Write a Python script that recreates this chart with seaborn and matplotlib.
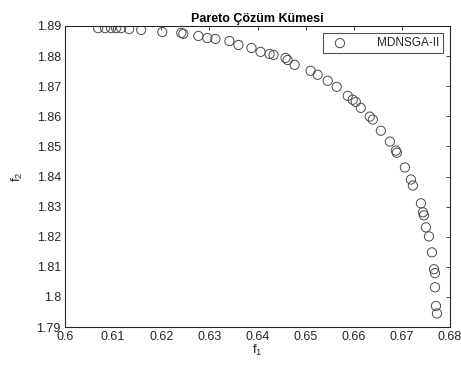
import matplotlib
matplotlib.use("Agg")
import matplotlib.pyplot as plt
import seaborn as sns
import pandas as pd

f1 = [0.60688, 0.60833, 0.60958, 0.61063, 0.61167, 0.61333, 0.61583, 0.62021, 0.62417, 0.62458,
      0.62771, 0.62958, 0.63125, 0.63417, 0.63604, 0.63875, 0.64063, 0.64250, 0.64333, 0.64583,
      0.64625, 0.64771, 0.65104, 0.65250, 0.65458, 0.65646, 0.65875, 0.65979, 0.66042, 0.66146,
      0.66333, 0.66396, 0.66563, 0.66750, 0.66875, 0.66896, 0.67063, 0.67188, 0.67229, 0.67396,
      0.67438, 0.67458, 0.67500, 0.67563, 0.67625, 0.67667, 0.67688, 0.67688, 0.67708, 0.67729]
f2 = [1.8893, 1.8893, 1.8893, 1.8893, 1.8893, 1.8890, 1.8887, 1.8880, 1.8877, 1.8874,
      1.8867, 1.8860, 1.8857, 1.8850, 1.8837, 1.8827, 1.8814, 1.8807, 1.8804, 1.8794,
      1.8787, 1.8771, 1.8751, 1.8738, 1.8718, 1.8698, 1.8668, 1.8655, 1.8648, 1.8628,
      1.8599, 1.8589, 1.8552, 1.8516, 1.8486, 1.8479, 1.8430, 1.8390, 1.8370, 1.8311,
      1.8281, 1.8271, 1.8231, 1.8201, 1.8148, 1.8092, 1.8079, 1.8032, 1.7970, 1.7945]
series_label = "MDNSGA-II"
title = "Pareto Çözüm Kümesi"
xticks = [0.6, 0.61, 0.62, 0.63, 0.64, 0.65, 0.66, 0.67, 0.68]
yticks = [1.79, 1.8, 1.81, 1.82, 1.83, 1.84, 1.85, 1.86, 1.87, 1.88, 1.89]

sns.set_theme(style="white")
plt.rcParams['font.family'] = ['Liberation Sans', 'DejaVu Sans']
plt.rcParams['mathtext.fontset'] = 'custom'
plt.rcParams['mathtext.rm'] = 'Liberation Sans'
plt.rcParams['mathtext.it'] = 'Liberation Sans'

df = pd.DataFrame({"f1": f1, "f2": f2})

fig = plt.figure(figsize=(4.61, 3.67), dpi=100)
ax = fig.add_axes([65/461, 1-327/367, (450-65)/461, (327-26)/367])

sns.scatterplot(data=df, x="f1", y="f2", ax=ax, marker="o", s=44,
                facecolor="none", edgecolor="#4a4a4a", linewidth=0.7,
                label=series_label)

ax.set_xlim(0.6, 0.68)
ax.set_ylim(1.79, 1.89)
ax.set_xticks(xticks)
ax.set_xticklabels([f"{t:g}" for t in xticks])
ax.set_yticks(yticks)
ax.set_yticklabels([f"{t:g}" for t in yticks])

axcol = "#262626"
for sp in ax.spines.values():
    sp.set_visible(True)
    sp.set_color(axcol)
    sp.set_linewidth(0.8)
ax.tick_params(direction="in", length=3, width=0.6, color=axcol,
               labelsize=9, labelcolor=axcol, top=True, right=True,
               labeltop=False, labelright=False, pad=3)

ax.set_xlabel(r"$\mathregular{f_1}$", fontsize=9.5, color=axcol, labelpad=0)
ax.set_ylabel(r"$\mathregular{f_2}$", fontsize=9.5, color=axcol, labelpad=8)
ax.set_title(title, fontsize=9, fontweight="bold", color="black", pad=3)

leg = ax.legend(loc="upper right", fontsize=8.5, frameon=True, fancybox=False,
                edgecolor="#262626", borderaxespad=0.6, handletextpad=2.0,
                borderpad=0.35, handlelength=2.2)
leg.get_frame().set_linewidth(0.8)
for t in leg.get_texts():
    t.set_color(axcol)

fig.savefig("out.png", dpi=100)
